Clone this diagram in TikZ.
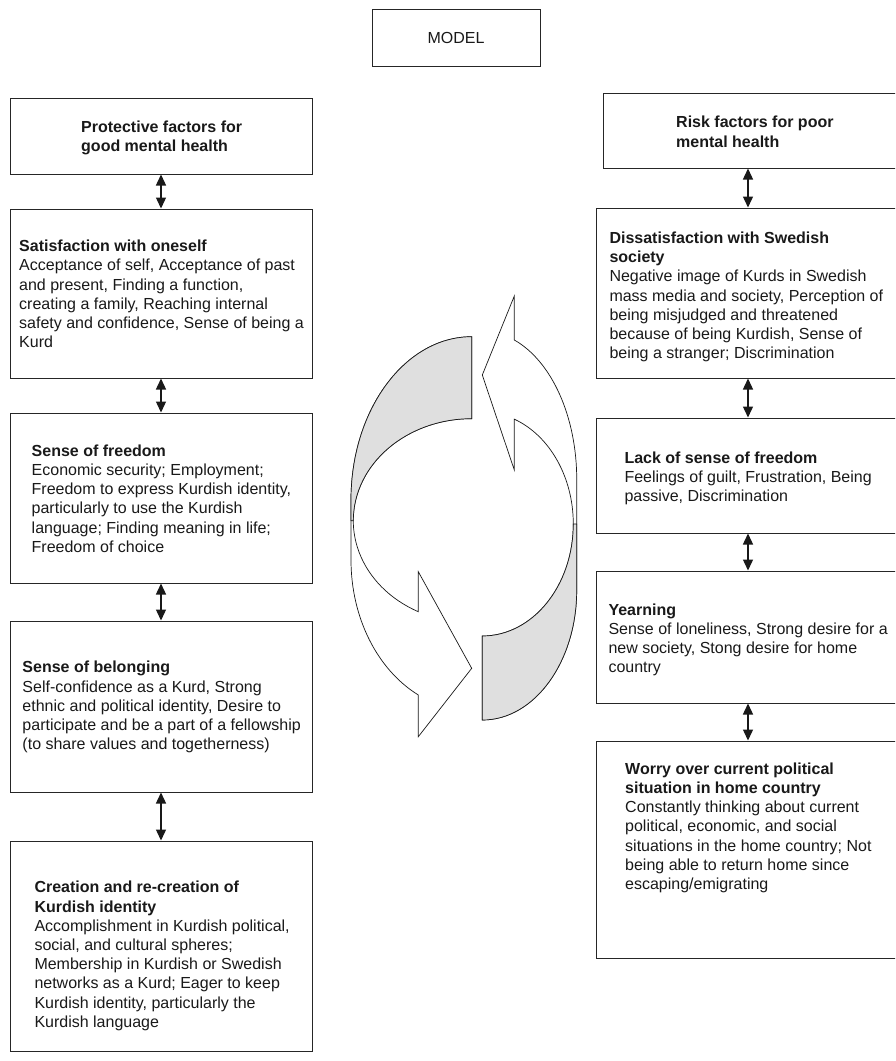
\documentclass[tikz,border=0pt]{standalone}
\usepackage{fontspec}
\setmainfont{Liberation Sans}
\usetikzlibrary{arrows.meta,fit}
\newcommand\fs{\fontsize{16}{19.2}\selectfont}
\begin{document}
\begin{tikzpicture}[x=1pt,y=-1pt,
  box/.style={draw=black!85, line width=1pt, inner sep=0pt},
  txt/.style={anchor=north west, inner sep=0pt, align=left, font=\fs, text=black!90},
  dbl/.style={{Triangle[width=10pt,length=11pt]}-{Triangle[width=10pt,length=11pt]}, line width=1.4pt, draw=black!90},
  cyc/.style={draw=black!90, line width=0.7pt, fill=white},
  back/.style={draw=black!90, line width=0.7pt, fill=gray!25}]
\useasboundingbox (0,0) rectangle (895,1061);
\clip (0,0) rectangle (895,1061);

% title
\node[box, minimum width=168pt, minimum height=57pt, font=\fs, text=black!90] (M) at (456,37.5) {MODEL};

% left column boxes
\node[box, fit={(10,98)(312,174)}] (P) {};
\node[box, fit={(10,209)(312,378)}] (S1) {};
\node[box, fit={(10,413)(312,583)}] (S2) {};
\node[box, fit={(10,621)(312,792)}] (S3) {};
\node[box, fit={(10,841)(312,1051)}] (S4) {};

% right column boxes
\node[box, fit={(603,93)(900,168)}] (R0) {};
\node[box, fit={(596,208)(900,378)}] (D1) {};
\node[box, fit={(596,418)(900,533)}] (D2) {};
\node[box, fit={(596,571)(900,703)}] (D3) {};
\node[box, fit={(596,741)(900,958)}] (D4) {};

% texts left
\node[txt] (tP) at (81,119.1) {\strut\textbf{Protective factors for}\\\textbf{good mental health}};
\node[txt] (tS1) at (19,238.1) {\strut\textbf{Satisfaction with oneself}\\Acceptance of self, Acceptance of past\\and present, Finding a function,\\creating a family, Reaching internal\\safety and confidence, Sense of being a\\Kurd};
\node[txt] (tS2) at (31.5,442.6) {\strut\textbf{Sense of freedom}\\Economic security; Employment;\\Freedom to express Kurdish identity,\\particularly to use the Kurdish\\language; Finding meaning in life;\\Freedom of choice};
\node[txt] (tS3) at (22.3,659.3) {\strut\textbf{Sense of belonging}\\Self-confidence as a Kurd, Strong\\ethnic and political identity, Desire to\\participate and be a part of a fellowship\\(to share values and togetherness)};
\node[txt] (tS4) at (34.3,879.3) {\strut\textbf{Creation and re-creation of}\\\textbf{Kurdish identity}\\Accomplishment in Kurdish political,\\social, and cultural spheres;\\Membership in Kurdish or Swedish\\networks as a Kurd; Eager to keep\\Kurdish identity, particularly the\\Kurdish language};

% texts right
\node[txt] (tR0) at (676,114.3) {\strut\textbf{Risk factors for poor}\\\textbf{mental health}};
\node[txt] (tD1) at (609.3,229.9) {\strut\textbf{Dissatisfaction with Swedish}\\\textbf{society}\\Negative image of Kurds in Swedish\\mass media and society, Perception of\\being misjudged and threatened\\because of being Kurdish, Sense of\\being a stranger; Discrimination};
\node[txt] (tD2) at (624.3,449.9) {\strut\textbf{Lack of sense of freedom}\\Feelings of guilt, Frustration, Being\\passive, Discrimination};
\node[txt] (tD3) at (608.3,601.6) {\strut\textbf{Yearning}\\Sense of loneliness, Strong desire for a\\new society, Stong desire for home\\country};
\node[txt] (tD4) at (625,760.6) {\strut\textbf{Worry over current political}\\\textbf{situation in home country}\\Constantly thinking about current\\political, economic, and social\\situations in the home country; Not\\being able to return home since\\escaping/emigrating};

% connectors left
\draw[dbl] (P.south) -- (S1.north);
\draw[dbl] (S1.south) -- (S2.north);
\draw[dbl] (S2.south) -- (S3.north);
\draw[dbl] (S3.south) -- (S4.north);
% connectors right
\draw[dbl] (D1.north |- R0.south) -- (D1.north);
\draw[dbl] (D1.south) -- (D2.north);
\draw[dbl] (D2.south) -- (D3.north);
\draw[dbl] (D3.south) -- (D4.north);

% cycle arrows: left
\draw[cyc] (471.7,336.7) arc[start angle=270,end angle=180,x radius=120.7,y radius=163.3]
  -- (351,560) arc[start angle=180,end angle=116.26,x radius=120.7,y radius=150.5]
  -- (418.3,736.7) -- (471.7,668.3) -- (418.3,571.7) -- (418.3,611.7)
  arc[start angle=116.8,end angle=270,x radius=118.4,y radius=102] -- cycle;
\draw[back] (471.7,336.7) arc[start angle=270,end angle=180,x radius=120.7,y radius=163.3]
  -- (351,520.66) -- (353.3,520.66)
  arc[start angle=180,end angle=270,x radius=118.4,y radius=102] -- cycle;
% cycle arrows: right
\draw[cyc] (482.3,375) -- (514.3,296) -- (514.3,340)
  arc[start angle=289.8,end angle=360,x radius=94.4,y radius=148]
  -- (576.7,590) arc[start angle=0,end angle=90,x radius=94.4,y radius=130]
  -- (482.3,636) arc[start angle=90,end angle=-69.4,x radius=91,y radius=112]
  -- (514.3,470) -- cycle;
\draw[back] (482.3,636) -- (482.3,720)
  arc[start angle=90,end angle=0,x radius=94.4,y radius=130]
  -- (576.7,524) -- (573.3,524)
  arc[start angle=0,end angle=90,x radius=91,y radius=112] -- cycle;
\end{tikzpicture}
\end{document}
